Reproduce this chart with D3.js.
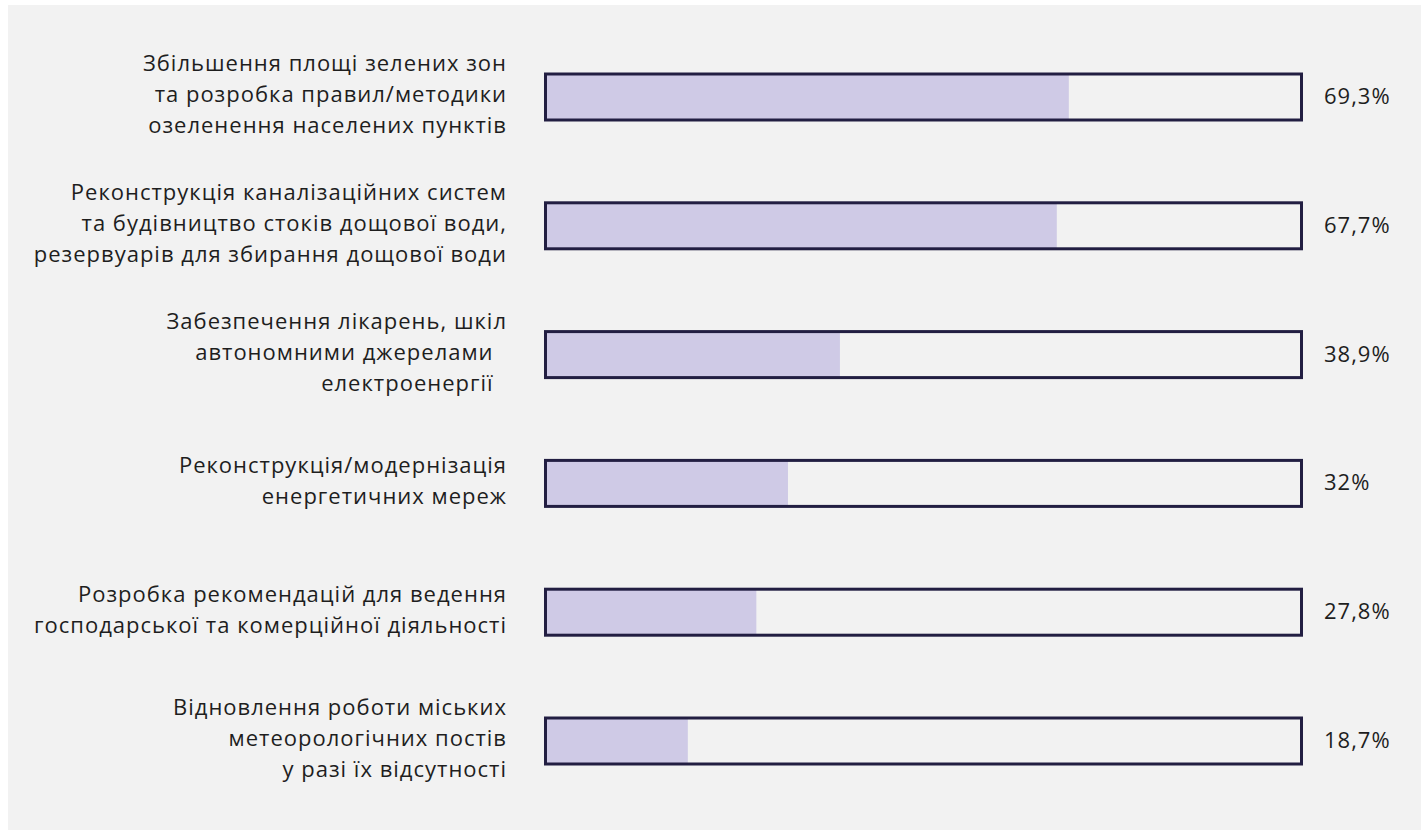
<!DOCTYPE html>
<html>
<head>
<meta charset="utf-8">
<script src="https://cdn.jsdelivr.net/npm/d3@7"></script>
<style>
  body { margin: 0; background: #ffffff; }
  svg { display: block; font-family: "Open Sans", "Noto Sans", sans-serif; }
</style>
</head>
<body>
<script>
// each category is a list of label lines
var categories = [
  ["Збільшення площі зелених зон", "та розробка правил/методики", "озеленення населених пунктів"],
  ["Реконструкція каналізаційних систем", "та будівництво стоків дощової води,", "резервуарів для збирання дощової води"],
  ["Забезпечення лікарень, шкіл", "автономними джерелами\u00a0\u00a0", "електроенергії\u00a0\u00a0"],
  ["Реконструкція/модернізація", "енергетичних мереж"],
  ["Розробка рекомендацій для ведення", "господарської та комерційної діяльності"],
  ["Відновлення роботи міських", "метеорологічних постів", "у разі їх відсутності"]
];
var values = [69.3, 67.7, 38.9, 32, 27.8, 18.7];
var valueLabels = ["69,3%", "67,7%", "38,9%", "32%", "27,8%", "18,7%"];

var width = 1427, height = 830;
var lineHeight = 31;
var barH = 46;

var data = categories.map(function(c, i) {
  return { key: "c" + i, lines: c, value: values[i], label: valueLabels[i] };
});

var svg = d3.select("body").append("svg")
  .attr("width", width)
  .attr("height", height);

// grey panel
svg.append("rect")
  .attr("x", 8).attr("y", 5)
  .attr("width", 1413).attr("height", 825)
  .attr("fill", "#f2f2f2");

var x = d3.scaleLinear().domain([0, 100]).range([547, 1300]);
var y = d3.scalePoint()
  .domain(data.map(function(d) { return d.key; }))
  .range([97, 741]);

var rows = svg.selectAll("g.row")
  .data(data)
  .enter()
  .append("g")
    .attr("class", "row")
    .attr("transform", function(d) { return "translate(0," + y(d.key) + ")"; });

// filled part
rows.append("rect")
  .attr("x", x(0) - 1.5)
  .attr("y", -barH / 2)
  .attr("width", function(d) { return x(d.value) - x(0) + 1.5; })
  .attr("height", barH)
  .attr("fill", "#cfcae6");

// outline
rows.append("rect")
  .attr("x", x(0) - 1.5)
  .attr("y", -barH / 2)
  .attr("width", x(100) - x(0) + 3)
  .attr("height", barH)
  .attr("fill", "none")
  .attr("stroke", "#221e42")
  .attr("stroke-width", 3);

// category labels
rows.append("text")
  .attr("text-anchor", "end")
  .attr("fill", "#1e1e1e")
  .style("font-size", "22px")
  .style("letter-spacing", "1px")
  .style("white-space", "pre")
  .each(function(d) {
    var n = d.lines.length;
    var t = d3.select(this);
    d.lines.forEach(function(line, j) {
      t.append("tspan")
        .attr("x", 507)
        .attr("y", (j - (n - 1) / 2) * lineHeight + 5)
        .text(line);
    });
  });

// value labels
rows.append("text")
  .attr("x", 1324)
  .attr("y", 7)
  .attr("fill", "#1e1e1e")
  .style("font-size", "22px")
  .style("letter-spacing", "1px")
  .text(function(d) { return d.label; });
</script>
</body>
</html>
